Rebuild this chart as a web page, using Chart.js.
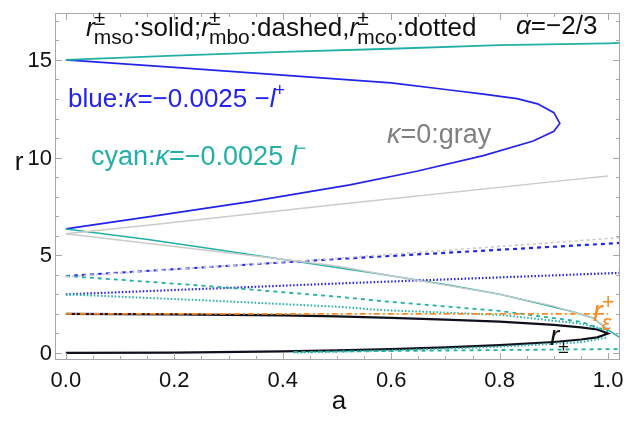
<!DOCTYPE html>
<html>
<head>
<meta charset="utf-8">
<script src="https://cdn.jsdelivr.net/npm/chart.js@4"></script>
<style>
  body { margin: 0; background: #fff; }
  canvas { display: block; }
</style>
</head>
<body>
<canvas id="chart" width="629" height="428"></canvas>
<script>
// axis ticks
const xMajor = [0, 0.2, 0.4, 0.6, 0.8, 1.0];
const xLabels = ['0.0', '0.2', '0.4', '0.6', '0.8', '1.0'];
const yMajor = [0, 5, 10, 15];
const yLabels = ['0', '5', '10', '15'];

// blue: kappa=-0.0025, -l+
const blueMsoA = [0, 0.2, 0.4, 0.6, 0.708, 0.77, 0.832, 0.87, 0.9, 0.911, 0.9, 0.862, 0.77, 0.647, 0.524, 0.34, 0.155, 0];
const blueMsoR = [15.0, 14.62, 14.22, 13.82, 13.46, 13.25, 13.02, 12.75, 12.3, 11.75, 11.35, 10.85, 10.1, 9.3, 8.6, 7.75, 6.98, 6.35];
const blueMboA = [0, 0.506, 1.022];
const blueMboR = [3.94, 4.82, 5.63];
const blueMcoA = [0, 0.506, 1.022];
const blueMcoR = [3.0, 3.56, 4.1];

// cyan: kappa=-0.0025, l-
const cyanMsoUpA = [0, 0.2, 0.4, 0.6, 0.8, 1.0, 1.022];
const cyanMsoUpR = [15.0, 15.22, 15.41, 15.57, 15.76, 15.85, 15.87];
const cyanMsoLoA = [0, 0.155, 0.284, 0.506, 0.579, 0.7, 0.8, 0.869, 0.93, 0.972, 1.0, 1.022];
const cyanMsoLoR = [6.35, 5.79, 5.27, 4.35, 4.04, 3.5, 3.0, 2.56, 2.15, 1.79, 1.18, 0.78];
const cyanMboA = [0, 0.25, 0.506, 0.58, 0.8, 0.95, 1.0];
const cyanMboR = [3.94, 3.45, 2.87, 2.66, 2.15, 1.6, 1.1];
const cyanMcoA = [0, 0.25, 0.506, 0.58, 0.8, 0.95, 1.0];
const cyanMcoR = [3.0, 2.7, 2.36, 2.2, 1.95, 1.5, 1.15];
const cyanMboInA = [0.42, 0.6, 0.8, 1.022];
const cyanMboInR = [0.05, 0.1, 0.15, 0.2];
const cyanMcoInA = [0.42, 0.6, 0.8, 0.95, 1.0];
const cyanMcoInR = [0.02, 0.13, 0.32, 0.55, 0.8];

// gray: kappa=0
const grayMsoUpA = [0, 0.155, 0.5, 0.93, 1.0];
const grayMsoUpR = [6.1, 6.55, 7.6, 8.86, 9.06];
const grayMsoLoA = [0, 0.2, 0.4, 0.5, 0.6, 0.8, 0.9, 0.97, 1.0];
const grayMsoLoR = [6.1, 5.45, 4.8, 4.45, 3.95, 3.0, 2.4, 1.8, 1.25];
const grayMboA = [0, 0.5, 1.022];
const grayMboR = [3.9, 4.85, 5.9];

// horizons r± and ergosurface r_eps+
const horizonA = [0, 0.2, 0.4, 0.5, 0.6, 0.7, 0.8, 0.9, 0.95, 0.98, 1.0, 0.98, 0.95, 0.9, 0.8, 0.7, 0.6, 0.5, 0.4, 0.2, 0];
const horizonR = [2, 1.98, 1.92, 1.87, 1.8, 1.71, 1.6, 1.44, 1.31, 1.2, 1.0, 0.8, 0.69, 0.56, 0.4, 0.29, 0.2, 0.13, 0.08, 0.02, 0];
const ergoA = [0, 1.0];
const ergoR = [2.0, 2.0];

const BLUE = '#2323ee';
const CYAN = '#22b0a6';
const GRAY = '#cbcbcb';
const ORANGE = '#ff8a1c';
const FONT = '"Liberation Sans", Arial, sans-serif';

function pts(a, r) {
    return a.map((v, i) => ({ x: v, y: r[i] }));
}

function line(a, r, color, width, dash) {
    return {
        data: pts(a, r),
        showLine: true,
        borderColor: color,
        borderWidth: width,
        borderDash: dash || [],
        pointRadius: 0,
        tension: 0,
        fill: false
    };
}

// draw text made of pieces: {t, i (italic), sup, sub, c}
function rich(ctx, x, y, parts, size, color, smallScale = 0.68) {
    let cx = x;
    parts.forEach(p => {
        ctx.fillStyle = p.c || color;
        ctx.font = (p.i ? 'italic ' : '') + size + 'px ' + FONT;
        ctx.fillText(p.t, cx, y);
        let w = ctx.measureText(p.t).width;
        let w2 = 0;
        const small = Math.round(size * smallScale);
        ctx.font = small + 'px ' + FONT;
        if (p.sup) {
            ctx.fillText(p.sup, cx + w - 1, y - size * 0.42);
            w2 = Math.max(w2, ctx.measureText(p.sup).width - 1);
        }
        if (p.sub) {
            ctx.font = (p.subI ? 'italic ' : '') + small + 'px ' + FONT;
            ctx.fillText(p.sub, cx + w - 1, y + size * 0.3);
            w2 = Math.max(w2, ctx.measureText(p.sub).width - 1);
        }
        cx += w + w2;
    });
}

const framePlugin = {
    id: 'frame',
    afterDatasetsDraw(chart) {
        const ctx = chart.ctx;
        const xs = chart.scales.x, ys = chart.scales.y;
        const a = chart.chartArea;
        ctx.save();
        ctx.strokeStyle = '#a8a8a8';
        ctx.lineWidth = 1;
        ctx.strokeRect(a.left + 0.5, a.top + 0.5, a.right - a.left - 1, a.bottom - a.top - 1);

        ctx.beginPath();
        for (let i = 0; i <= 20; i++) {
            const v = i * 0.05;
            const px = Math.round(xs.getPixelForValue(v)) + 0.5;
            const len = (i % 4 === 0) ? 7 : 4;
            ctx.moveTo(px, a.bottom); ctx.lineTo(px, a.bottom - len);
            ctx.moveTo(px, a.top); ctx.lineTo(px, a.top + len);
        }
        for (let v = 0; v <= 17; v++) {
            const py = Math.round(ys.getPixelForValue(v)) + 0.5;
            const len = (v % 5 === 0) ? 7 : 4;
            ctx.moveTo(a.left, py); ctx.lineTo(a.left + len, py);
            ctx.moveTo(a.right, py); ctx.lineTo(a.right - len, py);
        }
        ctx.stroke();

        // tick labels
        ctx.fillStyle = '#111';
        ctx.font = '22px ' + FONT;
        ctx.textAlign = 'center';
        ctx.textBaseline = 'alphabetic';
        xMajor.forEach((v, i) => {
            ctx.fillText(xLabels[i], xs.getPixelForValue(v), 387);
        });
        ctx.textAlign = 'right';
        ctx.textBaseline = 'middle';
        yMajor.forEach((v, i) => {
            ctx.fillText(yLabels[i], 52, ys.getPixelForValue(v) + 1);
        });

        // axis titles
        ctx.font = '26px ' + FONT;
        ctx.textAlign = 'center';
        ctx.fillText('r', 19, 163);
        ctx.fillText('a', 339, 402);

        // annotations
        ctx.textAlign = 'left';
        ctx.textBaseline = 'alphabetic';
        rich(ctx, 86, 36, [
            { t: 'r', i: true, sup: '±', sub: 'mso' }, { t: ':solid;' },
            { t: 'r', i: true, sup: '±', sub: 'mbo' }, { t: ':dashed,' },
            { t: 'r', i: true, sup: '±', sub: 'mco' }, { t: ':dotted' }
        ], 26, '#111', 0.8);
        rich(ctx, 516, 34, [{ t: 'α', i: true }, { t: '=−2/3' }], 26, '#111');
        rich(ctx, 68, 107, [
            { t: 'blue:' }, { t: 'κ', i: true }, { t: '=−0.0025 −' }, { t: 'l', i: true, sup: '+' }
        ], 26, BLUE);
        rich(ctx, 91, 165, [
            { t: 'cyan:' }, { t: 'κ', i: true }, { t: '=−0.0025 ' }, { t: 'l', i: true, sup: '−' }
        ], 27, CYAN);
        rich(ctx, 387, 143, [{ t: 'κ', i: true }, { t: '=0:gray' }], 27, '#808080');
        rich(ctx, 593, 321, [{ t: 'r', i: true, sup: '+', sub: 'ε', subI: true }], 29, ORANGE, 0.75);
        rich(ctx, 550, 345, [{ t: 'r', i: true, sub: '±' }], 28, '#111');
        ctx.restore();
    }
};

new Chart(document.getElementById('chart'), {
    type: 'scatter',
    data: {
        datasets: [
            line(grayMsoUpA, grayMsoUpR, GRAY, 1.4),
            line(grayMsoLoA, grayMsoLoR, GRAY, 1.4),
            line(grayMboA, grayMboR, GRAY, 1.6, [3, 3]),
            line(ergoA, ergoR, ORANGE, 1.6, [6, 3, 2, 3]),
            line(cyanMcoInA, cyanMcoInR, CYAN, 2, [1.5, 2]),
            line(cyanMboInA, cyanMboInR, CYAN, 1.8, [4, 4]),
            line(cyanMcoA, cyanMcoR, CYAN, 2, [1.5, 2]),
            line(cyanMboA, cyanMboR, CYAN, 1.8, [4, 4]),
            line(blueMcoA, blueMcoR, BLUE, 2.2, [1.5, 2]),
            line(blueMboA, blueMboR, BLUE, 2.2, [4, 4]),
            line(cyanMsoLoA, cyanMsoLoR, CYAN, 1.5),
            line(cyanMsoUpA, cyanMsoUpR, CYAN, 1.8),
            line(blueMsoA, blueMsoR, BLUE, 1.7),
            line(horizonA, horizonR, '#10101c', 2.2)
        ]
    },
    options: {
        responsive: false,
        animation: false,
        layout: { padding: { left: 55, top: 13, right: 9, bottom: 68 } },
        plugins: { legend: { display: false }, tooltip: { enabled: false } },
        scales: {
            x: { type: 'linear', min: -0.02, max: 1.022, display: false },
            y: { type: 'linear', min: -0.36, max: 17.4, display: false }
        }
    },
    plugins: [framePlugin]
});
</script>
</body>
</html>
